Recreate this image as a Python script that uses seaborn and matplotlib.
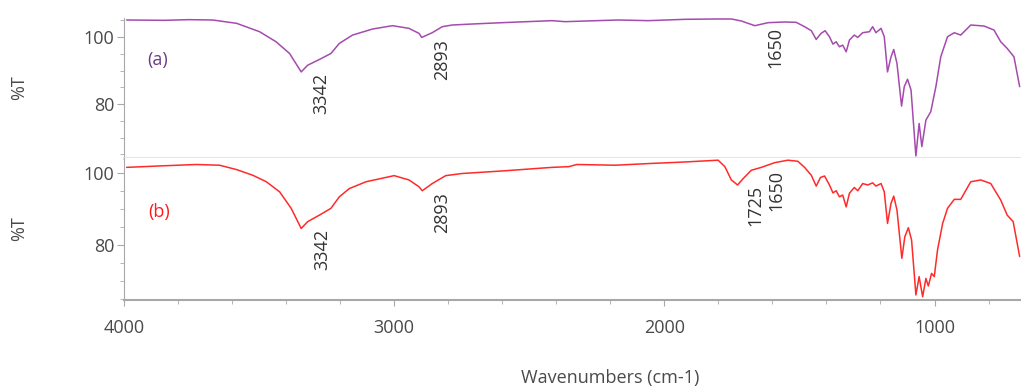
import numpy as np
import pandas as pd
import matplotlib
matplotlib.use("Agg")
import matplotlib.pyplot as plt
import seaborn as sns
from matplotlib.ticker import MultipleLocator

# Spectrum (a) - wavenumber (cm-1) and %T
wn_a = [3990, 3850, 3760, 3672, 3583, 3498, 3437, 3387, 3344, 3320, 3277, 3234,
        3203, 3154, 3080, 3006, 2945, 2908, 2898, 2859, 2822, 2785, 2711, 2600,
        2416, 2367, 2170, 2059, 1924, 1801, 1752, 1715, 1665, 1616, 1555, 1512,
        1481, 1456, 1438, 1420, 1405, 1389, 1376, 1364, 1352, 1340, 1327, 1315,
        1297, 1284, 1266, 1241, 1229, 1217, 1198, 1186, 1174, 1161, 1151, 1139,
        1122, 1112, 1100, 1087, 1069, 1057, 1047, 1032, 1014, 995, 977, 952,
        927, 903, 866, 817, 780, 755, 731, 706, 685]
t_a = [105.1, 105.0, 105.2, 105.1, 104.1, 101.6, 98.6, 95.1, 89.6, 91.6, 93.3, 95.1,
       98.1, 100.6, 102.4, 103.4, 102.6, 101.1, 99.9, 101.3, 103.1, 103.6, 103.9, 104.3,
       104.9, 104.6, 105.1, 104.9, 105.3, 105.4, 105.4, 104.8, 103.4, 104.3, 104.5, 104.4,
       103.1, 101.9, 99.3, 101.1, 101.9, 100.1, 97.9, 98.6, 97.1, 97.6, 95.6, 99.1,
       100.6, 99.9, 101.3, 101.6, 103.1, 101.3, 102.6, 100.1, 89.6, 94.1, 96.3, 92.1,
       79.4, 85.2, 87.4, 84.2, 64.5, 74.2, 67.3, 75.2, 77.7, 85.2, 94.1, 100.1,
       101.3, 100.6, 103.6, 103.3, 102.1, 98.6, 96.6, 94.1, 85.2]

# Spectrum (b)
wn_b = [3990, 3867, 3732, 3646, 3584, 3523, 3473, 3424, 3381, 3344, 3320, 3277,
        3234, 3203, 3166, 3104, 3000, 2945, 2908, 2896, 2859, 2809, 2748, 2600,
        2416, 2354, 2324, 2182, 2047, 1924, 1801, 1776, 1752, 1729, 1708, 1678,
        1641, 1592, 1543, 1506, 1481, 1456, 1438, 1422, 1407, 1389, 1376, 1364,
        1352, 1340, 1327, 1315, 1297, 1284, 1266, 1247, 1229, 1217, 1198, 1186,
        1174, 1161, 1151, 1139, 1121, 1110, 1097, 1085, 1069, 1057, 1044, 1032,
        1023, 1011, 1001, 989, 970, 952, 927, 903, 866, 829, 792, 755, 731, 709, 685]
t_b = [101.6, 102.0, 102.4, 102.2, 101.0, 99.4, 97.6, 94.8, 90.2, 84.6, 86.5, 88.3,
       90.2, 93.4, 95.7, 97.6, 99.3, 98.1, 96.2, 95.1, 97.1, 99.3, 99.9, 100.6,
       101.6, 101.8, 102.4, 102.2, 102.7, 103.1, 103.6, 101.8, 98.1, 96.7, 98.5, 100.8,
       101.6, 102.9, 103.6, 103.3, 101.6, 99.4, 96.4, 98.8, 99.2, 96.7, 94.5, 95.1,
       93.4, 93.9, 90.6, 94.4, 96.0, 95.1, 97.1, 96.7, 97.3, 96.4, 97.1, 94.8,
       86.0, 91.6, 93.6, 89.7, 76.3, 82.3, 84.8, 81.4, 66.1, 71.2, 65.6, 70.7,
       68.6, 72.1, 71.2, 78.6, 86.0, 90.2, 92.7, 92.7, 97.6, 98.1, 97.1, 92.5, 88.3, 86.5, 76.8]

# Peak labels: text, x position, top of text (%T)
peaks_a = ["3342", "2893", "1650"]
peaks_a_x = [3269, 2824, 1589]
peaks_a_y = [89.2, 99.3, 103.1]
peaks_b = ["3342", "2893", "1725", "1650"]
peaks_b_x = [3265, 2824, 1663, 1585]
peaks_b_y = [84.4, 94.8, 96.7, 100.8]

sns.set_style("white")
plt.rcParams["font.family"] = ["Open Sans", "DejaVu Sans"]

fig = plt.figure(figsize=(10.21, 3.90), dpi=100)
ax1 = fig.add_axes([0.1214, 0.5949, 0.8786, 0.359])
ax2 = fig.add_axes([0.1214, 0.2308, 0.8786, 0.364])

df_a = pd.DataFrame({"wn": wn_a, "T": t_a})
df_b = pd.DataFrame({"wn": wn_b, "T": t_b})
sns.lineplot(data=df_a, x="wn", y="T", ax=ax1, color="#a54aae", linewidth=1.1)
sns.lineplot(data=df_b, x="wn", y="T", ax=ax2, color="#ff2a2a", linewidth=1.1)

spine_col = "#a8a8a8"
tick_col = "#4a4a4a"
for ax, ylim in [(ax1, (63.9, 105.7)), (ax2, (64.7, 104.2))]:
    ax.set_xlim(4000, 680)
    ax.set_ylim(*ylim)
    ax.set_xlabel("")
    ax.set_ylabel("%T", fontsize=13, color=tick_col, labelpad=40)
    ax.yaxis.set_major_locator(MultipleLocator(20))
    ax.yaxis.set_minor_locator(MultipleLocator(5))
    ax.xaxis.set_major_locator(MultipleLocator(1000))
    ax.xaxis.set_minor_locator(MultipleLocator(200))
    for s in ["top", "right"]:
        ax.spines[s].set_visible(False)
    ax.spines["left"].set_color(spine_col)
    ax.tick_params(axis="y", which="major", direction="out", length=5, color=spine_col,
                   labelsize=13, labelcolor=tick_col, left=True, pad=2)
    ax.tick_params(axis="y", which="minor", direction="out", length=3, color=spine_col, left=True)

ax1.spines["bottom"].set_color("#e2e2e2")
ax1.spines["bottom"].set_linewidth(2)
ax1.tick_params(axis="x", which="both", bottom=False, labelbottom=False)

ax2.spines["bottom"].set_color(spine_col)
ax2.spines["bottom"].set_linewidth(1.5)
ax2.tick_params(axis="x", which="major", direction="out", length=4, color=spine_col,
                labelsize=13, labelcolor=tick_col, bottom=True, pad=10)
ax2.tick_params(axis="x", which="minor", direction="out", length=3, color=spine_col, bottom=True)

fig.text(610 / 1021, 1 - 378 / 390, "Wavenumbers (cm-1)", ha="center", va="center",
         fontsize=13, color=tick_col)

for txt, x, y in zip(peaks_a, peaks_a_x, peaks_a_y):
    ax1.text(x, y, txt, rotation=90, ha="center", va="top", fontsize=13, color="#333333")
for txt, x, y in zip(peaks_b, peaks_b_x, peaks_b_y):
    ax2.text(x, y, txt, rotation=90, ha="center", va="top", fontsize=13, color="#333333")

ax1.text(3874, 93.1, "(a)", ha="center", va="center", fontsize=13, color="#6a3d88")
ax2.text(3868, 89.2, "(b)", ha="center", va="center", fontsize=13, color="#ff1a1a")

fig.savefig("out.png", dpi=100)
